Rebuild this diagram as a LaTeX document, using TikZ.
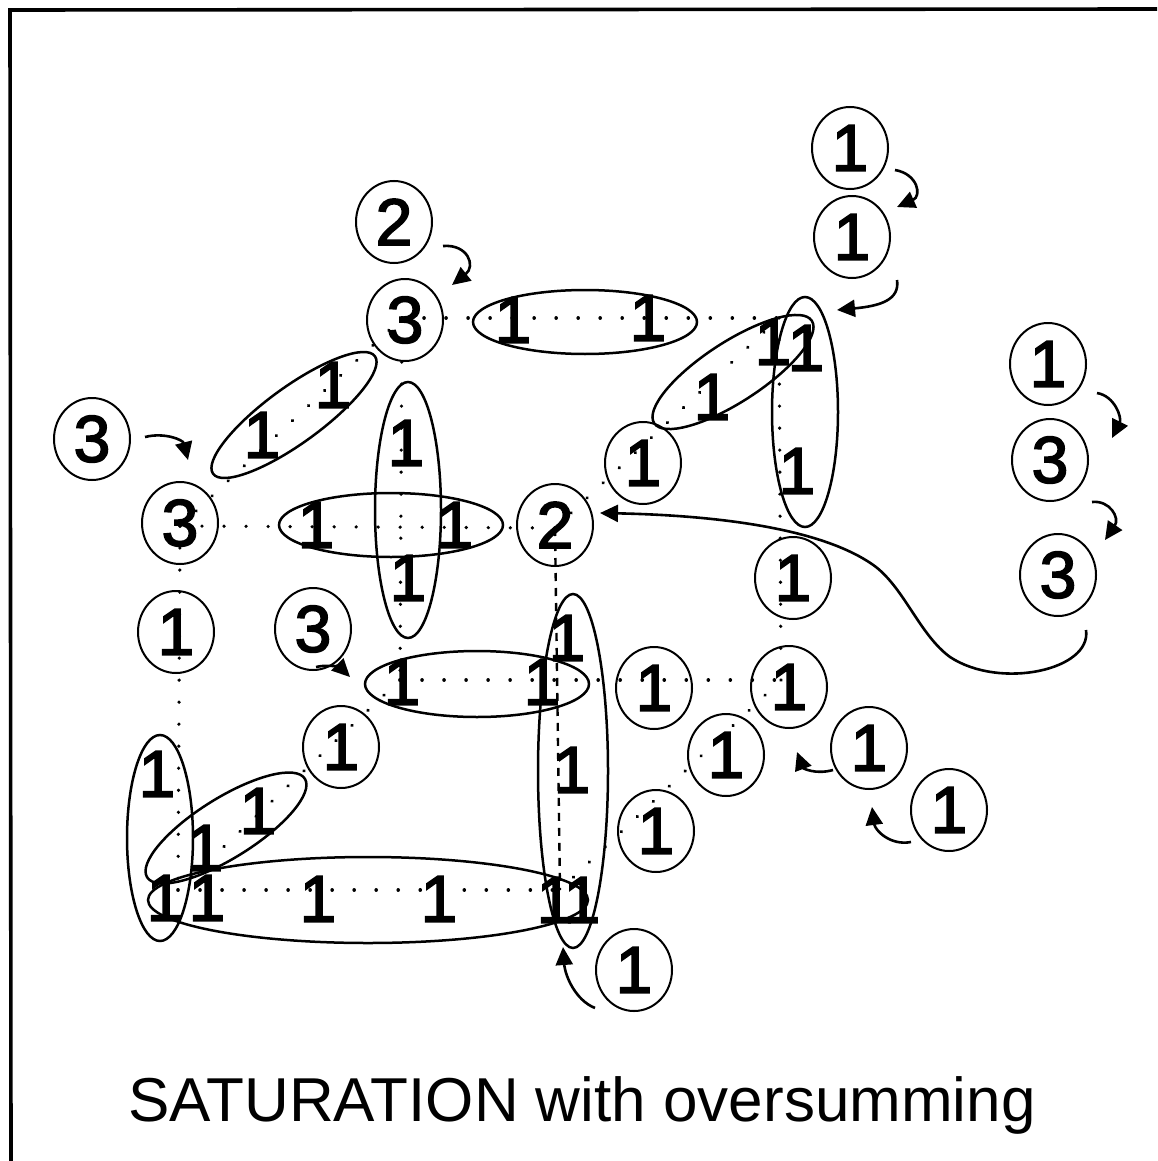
\documentclass[tikz,border=0pt]{standalone}
\usepackage{fontspec}
\setmainfont{Liberation Sans}
\newfontfamily\digfont{Liberation Sans}[FakeBold=2.5]
\usetikzlibrary{arrows.meta,shapes.geometric}
\tikzset{
  circ/.style={draw, line width=1pt, ellipse, minimum width=38pt, minimum height=41pt, inner sep=0pt,
    font=\digfont\fontsize{33}{33}\selectfont},
  one/.style={inner sep=0pt, font=\digfont\fontsize{33}{33}\selectfont},
  oval/.style={line width=1.25pt},
  dots/.style={line width=1.8pt, line cap=round, dash pattern=on 0.01pt off 11pt},
  dashline/.style={line width=1.2pt, dash pattern=on 4pt off 3.5pt},
  arr/.style={line width=1.3pt, -{Triangle[length=9pt,width=8.5pt]}},
  frame/.style={line width=1.8pt}
}
\begin{document}
\begin{tikzpicture}[x=0.5pt,y=-0.5pt]
\useasboundingbox (0,0) rectangle (1157,1161);
% frame
\coordinate (ftr) at (1157,9);
\coordinate (ftl) at (10,10);
\coordinate (fbl) at (11,1161);
\draw[frame] (ftr) -- (ftl) -- (fbl);

% cube vertices
\coordinate (Vbtl) at (402,318);
\coordinate (Vbtr) at (779,318);
\coordinate (Vftl) at (180,526);
\coordinate (Vftr) at (555,528);
\coordinate (Vbbl) at (400,680);
\coordinate (Vbbr) at (781,680);
\coordinate (Vfbl) at (178,890);
\coordinate (Vfbr) at (560,890);

% dotted edges
\draw[dots] (Vbtl) -- (Vbtr);
\draw[dots] (Vftl) -- (Vbtl);
\draw[dots] (Vftl) -- (Vftr);
\draw[dots] (Vbtl) -- (Vbbl);
\draw[dots] (Vftl) -- (Vfbl);
\draw[dashline] (Vftr) -- (Vfbr);
\draw[dots] (Vbbl) -- (Vbbr);
\draw[dots] (Vftr) -- (Vbtr);
\draw[dots] (Vbtr) -- (Vbbr);
\draw[dots] (Vbbr) -- (Vfbr);
\draw[dots] (Vbbl) -- (Vfbl);
\draw[dots] (Vfbl) -- (Vfbr);

% ovals
\draw[oval] (585,322) ellipse [x radius=112, y radius=32];
\draw[oval, rotate around={36:(294,415)}] (294,415) ellipse [x radius=100, y radius=28];
\draw[oval] (408,510) ellipse [x radius=33, y radius=128];
\draw[oval] (391,525) ellipse [x radius=112, y radius=32];
\draw[oval] (477,684) ellipse [x radius=112, y radius=33];
\draw[oval] (573,771) ellipse [x radius=35, y radius=177];
\draw[oval] (368,900) ellipse [x radius=220, y radius=43];
\draw[oval] (160,838) ellipse [x radius=33, y radius=103];
\draw[oval, rotate around={32:(226,828)}] (226,828) ellipse [x radius=93, y radius=30];
\draw[oval, rotate around={33:(733,372)}] (733,372) ellipse [x radius=94, y radius=30];
\draw[oval] (805,412) ellipse [x radius=33, y radius=115];

% ones inside ovals
\node[one] (o1) at (513,320) {1};
\node[one] (o2) at (648,318) {1};
\node[one] (o3) at (262,435) {1};
\node[one] (o4) at (333,385) {1};
\node[one] (o5) at (406,443) {1};
\node[one] (o6) at (408,578) {1};
\node[one] (o7) at (316,525) {1};
\node[one] (o8) at (455,525) {1};
\node[one] (o9) at (402,682) {1};
\node[one] (o10) at (542,682) {1};
\node[one] (o11) at (567,638) {1};
\node[one] (o12) at (572,770) {1};
\node[one] (o13) at (165,898) {1};
\node[one] (o14) at (207,898) {1};
\node[one] (o15) at (258,811) {1};
\node[one] (o16) at (205,848) {1};
\node[one] (o17) at (157,774) {1};
\node[one] (o18) at (318,899) {1};
\node[one] (o19) at (439,899) {1};
\node[one] (o20) at (555,900) {1};
\node[one] (o21) at (582,900) {1};
\node[one] (o22) at (712,397) {1};
\node[one] (o23) at (773,342) {1};
\node[one] (o24) at (806,348) {1};
\node[one] (o25) at (797,471) {1};

% circled numbers
\node[circ] (c1) at (850,148) {1};
\node[circ] (c2) at (852,237) {1};
\node[circ] (c3) at (394,222) {2};
\node[circ] (c4) at (405,320) {3};
\node[circ] (c5) at (92,439) {3};
\node[circ] (c6) at (180,523) {3};
\node[circ] (c7) at (555,525) {2};
\node[circ] (c8) at (176,632) {1};
\node[circ] (c9) at (313,629) {3};
\node[circ] (c10) at (341,747) {1};
\node[circ] (c11) at (643,463) {1};
\node[circ] (c12) at (1048,364) {1};
\node[circ] (c13) at (1050,460) {3};
\node[circ] (c14) at (1058,575) {3};
\node[circ] (c15) at (793,578) {1};
\node[circ] (c16) at (789,687) {1};
\node[circ] (c17) at (654,688) {1};
\node[circ] (c18) at (726,755) {1};
\node[circ] (c19) at (656,831) {1};
\node[circ] (c20) at (869,748) {1};
\node[circ] (c21) at (949,810) {1};
\node[circ] (c22) at (634,970) {1};

% arrows
\coordinate (a1s) at (443,246); \coordinate (a1e) at (452,285);
\draw[arr] (a1s) .. controls (468,244) and (476,266) .. (a1e);
\coordinate (a2s) at (145,437); \coordinate (a2e) at (188,460);
\draw[arr] (a2s) .. controls (165,432) and (183,440) .. (a2e);
\coordinate (a3s) at (316,667); \coordinate (a3e) at (350,677);
\draw[arr] (a3s) .. controls (328,664) and (341,668) .. (a3e);
\coordinate (a4s) at (895,170); \coordinate (a4e) at (897,207);
\draw[arr] (a4s) .. controls (918,174) and (922,196) .. (a4e);
\coordinate (a5s) at (897,280); \coordinate (a5e) at (837,310);
\draw[arr] (a5s) .. controls (900,300) and (880,306) .. (a5e);
\coordinate (a6s) at (1097,393); \coordinate (a6e) at (1112,438);
\draw[arr] (a6s) .. controls (1115,396) and (1122,418) .. (a6e);
\coordinate (a7s) at (1092,502); \coordinate (a7e) at (1105,540);
\draw[arr] (a7s) .. controls (1110,500) and (1120,518) .. (a7e);
\coordinate (a8s) at (833,770); \coordinate (a8e) at (797,752);
\draw[arr] (a8s) .. controls (815,775) and (803,768) .. (a8e);
\coordinate (a9s) at (911,842); \coordinate (a9e) at (872,807);
\draw[arr] (a9s) .. controls (890,846) and (875,830) .. (a9e);
\coordinate (a10s) at (595,1008); \coordinate (a10e) at (563,947);
\draw[arr] (a10s) .. controls (575,1000) and (565,975) .. (a10e);
\coordinate (a11s) at (1086,630); \coordinate (a11e) at (600,513);
\draw[arr] (a11s) .. controls (1092,670) and (1000,690) .. (950,657)
  .. controls (920,635) and (905,590) .. (876,567)
  .. controls (820,525) and (700,515) .. (a11e);

% title
\node[anchor=base, inner sep=0pt, font=\fontsize{31}{31}\selectfont] (title) at (582,1121) {SATURATION with oversumming};
\end{tikzpicture}
\end{document}
